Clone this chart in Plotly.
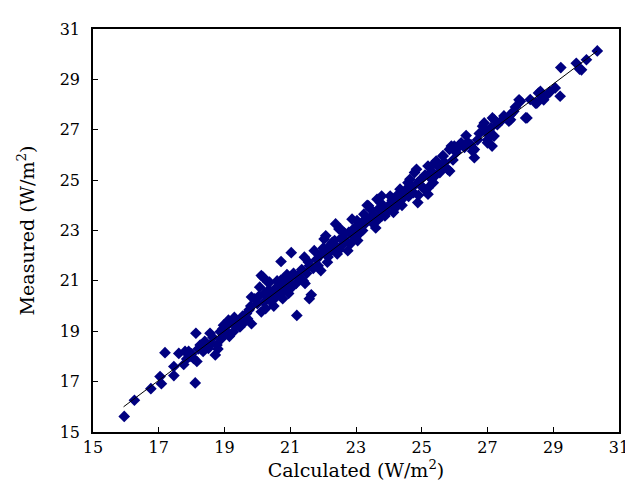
import plotly.graph_objs as go

calc = [15.95, 16.26, 16.76, 17.04, 17.08, 17.19, 17.46, 17.46, 17.61, 17.76, 17.91, 18.11, 18.13, 18.06, 18.16,
        18.26, 18.51, 18.56, 18.72, 18.77, 18.87, 18.97, 19.12, 19.27, 19.47, 19.47, 19.67, 19.82, 19.92, 20.12,
        17.85, 18.0, 18.35, 18.4, 18.6, 18.65, 18.9, 18.95, 19.05, 19.1, 19.2, 19.3, 19.35, 19.4, 19.55,
        19.6, 19.7, 19.75, 19.8, 18.8, 19.0, 19.15, 18.45, 18.2, 17.95, 17.8,
        20.17, 20.37, 20.22, 20.47, 20.72, 20.77, 20.67, 21.03, 21.2, 21.18, 21.58, 21.64, 21.3, 20.12, 20.32,
        20.07, 20.92, 21.23, 20.72, 19.82, 20.52, 20.77, 21.43, 21.73, 21.58, 21.93, 22.13,
        20.0, 20.05, 20.2, 20.3, 20.4, 20.55, 20.6, 20.8, 20.85, 20.95, 21.0, 21.05, 21.1, 21.35, 21.4,
        21.5, 21.55, 21.7, 21.8, 21.85, 21.9, 21.45, 20.9, 20.35, 20.6, 20.25, 20.5,
        22.03, 22.38, 22.53, 22.88, 23.34, 23.64, 23.14, 22.43, 22.83, 23.44, 23.64, 22.08, 22.28, 22.48, 22.78,
        23.18, 23.38, 23.68, 23.78, 23.88, 23.03, 23.24, 23.44, 23.79, 23.74,
        22.0, 22.1, 22.2, 22.25, 22.35, 22.4, 22.55, 22.6, 22.65, 22.7, 22.9, 22.95, 23.0, 23.1, 23.2,
        23.3, 23.5, 23.55, 23.6, 23.85, 23.95, 22.15, 22.5, 22.75, 23.05,
        24.04, 24.14, 24.34, 24.64, 24.84, 25.19, 25.35, 25.35, 25.65, 25.85, 25.9, 24.38, 24.28, 24.88, 24.58,
        24.78, 24.88, 25.08, 25.19, 25.4, 25.49, 25.64, 25.79, 25.84, 25.99, 25.44,
        24.0, 24.1, 24.2, 24.25, 24.45, 24.5, 24.6, 24.7, 24.75, 24.95, 25.0, 25.1, 25.25, 25.3, 25.55,
        25.6, 25.7, 25.95, 24.4, 24.9, 25.2,
        26.15, 26.2, 26.35, 26.55, 26.6, 26.6, 26.85, 26.9, 27.0, 27.0, 27.1, 27.15, 27.14, 27.2, 27.2,
        27.65, 27.7, 27.7, 27.75, 27.8, 27.96, 28.0, 28.16, 28.2,
        26.05, 26.3, 26.4, 26.5, 26.7, 26.75, 26.95, 27.05, 27.3, 27.45, 27.5, 27.85,
        28.46, 28.5, 28.55, 28.61, 28.71, 28.81, 29.06, 29.21, 29.23, 29.7, 29.86, 29.8, 30.01, 30.34,
        28.3, 28.65, 28.9]
meas = [15.62, 16.26, 16.72, 17.2, 16.92, 18.15, 17.24, 17.6, 18.12, 17.68, 18.2, 16.95, 18.92, 17.92, 17.8,
        18.45, 18.32, 18.92, 18.06, 18.45, 18.98, 19.24, 19.44, 18.98, 19.17, 19.47, 19.7, 19.3, 20.29, 19.77,
        17.9, 18.1, 18.2, 18.6, 18.5, 18.75, 18.7, 19.1, 19.0, 19.25, 19.35, 19.55, 19.2, 19.4, 19.6,
        19.35, 19.5, 19.85, 20.0, 18.3, 18.85, 18.8, 18.4, 18.3, 18.0, 18.2,
        21.15, 20.95, 20.5, 20.56, 21.77, 20.29, 20.8, 22.12, 19.63, 20.9, 20.29, 20.45, 21.1, 21.21, 20.95,
        20.75, 20.95, 21.21, 21.03, 20.36, 20.29, 21.04, 21.94, 22.2, 21.6, 21.41, 21.74,
        20.1, 20.4, 20.15, 20.4, 20.2, 20.7, 20.45, 20.6, 20.8, 20.5, 21.1, 20.75, 21.3, 21.45, 21.0,
        21.3, 21.75, 21.5, 21.85, 21.6, 22.0, 20.9, 21.25, 20.65, 21.0, 19.9, 20.0,
        22.66, 23.26, 23.06, 23.45, 24.0, 24.24, 22.93, 22.07, 22.47, 23.52, 23.39, 22.79, 22.53, 23.06, 22.93,
        23.32, 23.98, 23.85, 24.37, 23.58, 23.39, 23.65, 23.85, 23.58, 24.11,
        22.3, 22.05, 22.4, 22.2, 22.6, 22.35, 22.7, 22.45, 22.9, 22.6, 22.8, 23.1, 22.75, 23.15, 23.0,
        23.3, 23.3, 23.6, 23.1, 23.9, 23.75, 21.95, 22.25, 22.2, 22.6,
        24.37, 23.72, 24.64, 25.03, 25.43, 24.44, 24.9, 25.63, 25.96, 25.36, 26.35, 24.51, 24.11, 24.11, 24.9,
        25.3, 24.9, 24.64, 25.56, 25.16, 25.56, 25.96, 25.43, 26.22, 26.35, 25.76,
        24.0, 24.2, 23.9, 24.4, 24.3, 24.6, 24.35, 24.7, 24.5, 25.0, 24.75, 25.2, 25.1, 25.35, 25.3,
        25.5, 25.7, 25.8, 24.0, 24.4, 24.7,
        26.35, 26.48, 26.77, 26.15, 25.89, 26.22, 27.14, 27.27, 26.48, 26.6, 27.08, 27.47, 26.35, 26.75, 27.4,
        27.34, 27.4, 27.6, 27.67, 27.73, 28.19, 28.13, 27.47, 27.47,
        26.1, 26.3, 26.5, 26.4, 26.6, 26.85, 26.9, 26.95, 27.2, 27.4, 27.55, 27.9,
        28.06, 28.06, 28.46, 28.52, 28.19, 28.39, 28.66, 28.33, 29.47, 29.64, 29.38, 29.41, 29.78, 30.13,
        28.2, 28.3, 28.5]

# fitted line
line_x = [15.93, 30.34]
line_y = [16.0, 30.13]

tick_vals = [15, 17, 19, 21, 23, 25, 27, 29, 31]

points = go.Scatter(x=calc, y=meas, mode='markers',
                    marker=dict(symbol='diamond', size=9, color='#000080',
                                line=dict(width=0)))
fit = go.Scatter(x=line_x, y=line_y, mode='lines', line=dict(color='black', width=1))

font = dict(family='DejaVu Serif', size=16, color='black')

layout = go.Layout(width=633, height=481, showlegend=False,
                   paper_bgcolor='white', plot_bgcolor='white',
                   margin=dict(l=85, r=17, t=19, b=57),
                   font=font,
                   xaxis=dict(range=[15, 31], tickvals=tick_vals, ticks='inside', ticklen=5,
                              tickcolor='black', showline=True, linecolor='black', linewidth=1.5,
                              mirror=True, showgrid=False, zeroline=False,
                              title=dict(text='Calculated (W/m<sup>2</sup>)', standoff=2)),
                   yaxis=dict(range=[15, 31], tickvals=tick_vals, ticks='inside', ticklen=5,
                              tickcolor='black', showline=True, linecolor='black', linewidth=1.5,
                              mirror=True, showgrid=False, zeroline=False, ticklabelstandoff=8,
                              title=dict(text='Measured (W/m<sup>2</sup>)', standoff=20)))

fig = go.Figure(data=[points, fit], layout=layout)
fig.write_html("out.html")
